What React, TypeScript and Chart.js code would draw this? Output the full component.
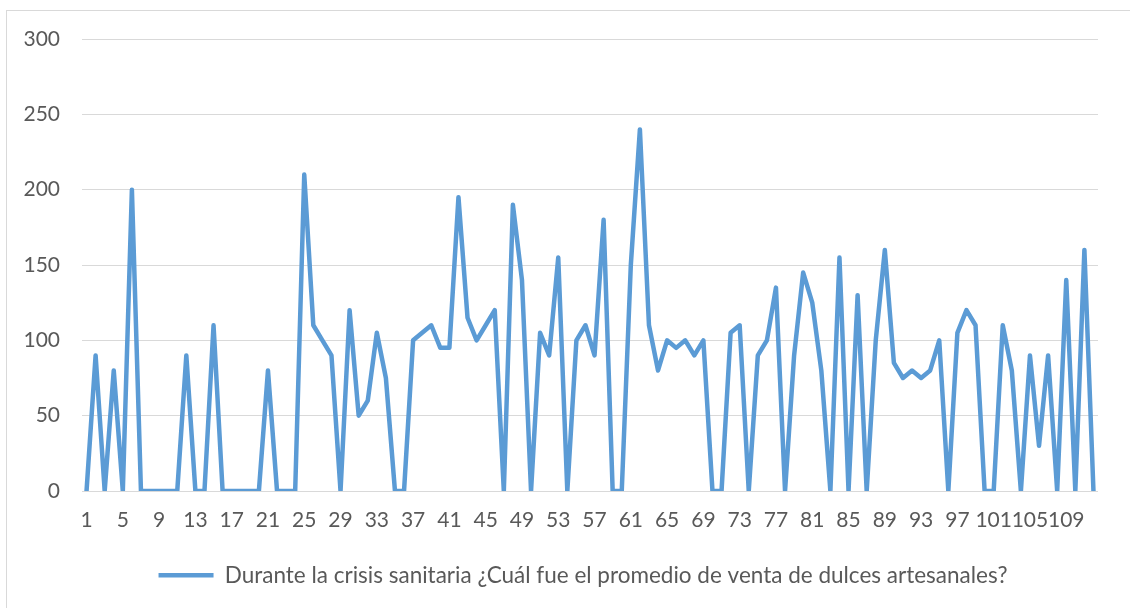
import React, { useEffect, useRef } from "react";
import { Chart, registerables } from "chart.js";

Chart.register(...registerables);

const seriesLabel =
  "Durante la crisis sanitaria ¿Cuál fue el promedio de venta de dulces artesanales?";

const categories: string[] = Array.from({ length: 112 }, (_, i) => String(i + 1));

const shownTickLabels = [
  "1", "5", "9", "13", "17", "21", "25", "29", "33", "37", "41", "45", "49", "53",
  "57", "61", "65", "69", "73", "77", "81", "85", "89", "93", "97", "101", "105", "109",
];

const values = [
  0, 90, 0, 80, 0, 200, 0, 0, 0, 0,
  0, 90, 0, 0, 110, 0, 0, 0, 0, 0,
  80, 0, 0, 0, 210, 110, 100, 90, 0, 120,
  50, 60, 105, 75, 0, 0, 100, 105, 110, 95,
  95, 195, 115, 100, 110, 120, 0, 190, 140, 0,
  105, 90, 155, 0, 100, 110, 90, 180, 0, 0,
  150, 240, 110, 80, 100, 95, 100, 90, 100, 0,
  0, 105, 110, 0, 90, 100, 135, 0, 90, 145,
  125, 80, 0, 155, 0, 130, 0, 100, 160, 85,
  75, 80, 75, 80, 100, 0, 105, 120, 110, 0,
  0, 110, 80, 0, 90, 30, 90, 0, 140, 0,
  160, 0,
];

const yTicks = [0, 50, 100, 150, 200, 250, 300];

const FONT = "Lato, 'Liberation Sans', sans-serif";
const TEXT = "#595959";
const GRID = "#D9D9D9";
const LINE = "#5B9BD5";

const shiftLegend = {
  id: "shiftLegend",
  afterLayout(chart: any) {
    const lg = chart.legend;
    if (lg) {
      lg.left += 34;
      lg.right += 34;
    }
  },
};

export default function App() {
  const ref = useRef<HTMLCanvasElement | null>(null);

  useEffect(() => {
    if (!ref.current) return;
    const chart = new Chart(ref.current, {
      type: "line",
      data: {
        labels: categories,
        datasets: [
          {
            label: seriesLabel,
            data: values,
            borderColor: LINE,
            backgroundColor: LINE,
            borderWidth: 4.5,
            pointRadius: 0,
            pointHoverRadius: 0,
            tension: 0,
            borderJoinStyle: "round",
            borderCapStyle: "round",
            fill: false,
          },
        ],
      },
      plugins: [shiftLegend],
      options: {
        animation: false,
        responsive: false,
        maintainAspectRatio: false,
        layout: { padding: { left: 0, right: 32, top: 39, bottom: 11.5 } },
        plugins: {
          tooltip: { enabled: false },
          legend: {
            display: true,
            position: "bottom",
            labels: {
              usePointStyle: true,
              pointStyle: "line",
              pointStyleWidth: 55,
              padding: 10,
              color: TEXT,
              font: { family: FONT, size: 22.5 },
            },
          },
        },
        scales: {
          x: {
            type: "category",
            offset: true,
            grid: { display: false, drawTicks: false },
            border: { display: false },
            afterFit: (scale: any) => {
              scale.height = 63;
            },
            ticks: {
              autoSkip: false,
              maxRotation: 0,
              minRotation: 0,
              padding: 17,
              color: TEXT,
              font: { family: FONT, size: 21 },
              callback: function (this: any, _v: any, index: number) {
                const lab = categories[index];
                return shownTickLabels.includes(lab) ? lab : "";
              },
            },
          },
          y: {
            min: yTicks[0],
            max: yTicks[yTicks.length - 1],
            afterFit: (scale: any) => {
              scale.width = 82;
            },
            afterBuildTicks: (scale: any) => {
              scale.ticks = yTicks.map((v) => ({ value: v }));
            },
            grid: { color: GRID, lineWidth: 1, drawTicks: false },
            border: { display: false },
            ticks: {
              padding: 22,
              color: TEXT,
              font: { family: FONT, size: 21 },
            },
          },
        },
      },
    });
    return () => chart.destroy();
  }, []);

  return (
    <div
      style={{
        position: "fixed",
        left: 0,
        top: 0,
        width: 1130,
        height: 608,
        background: "#fff",
        overflow: "hidden",
      }}
    >
      <div
        style={{
          position: "absolute",
          left: 6,
          top: 10,
          width: 1200,
          height: 700,
          borderLeft: `1px solid ${GRID}`,
          borderTop: `1px solid ${GRID}`,
        }}
      />
      <canvas
        ref={ref}
        width={1130}
        height={608}
        style={{ position: "absolute", left: 0, top: 0, width: 1130, height: 608 }}
      />
    </div>
  );
}
